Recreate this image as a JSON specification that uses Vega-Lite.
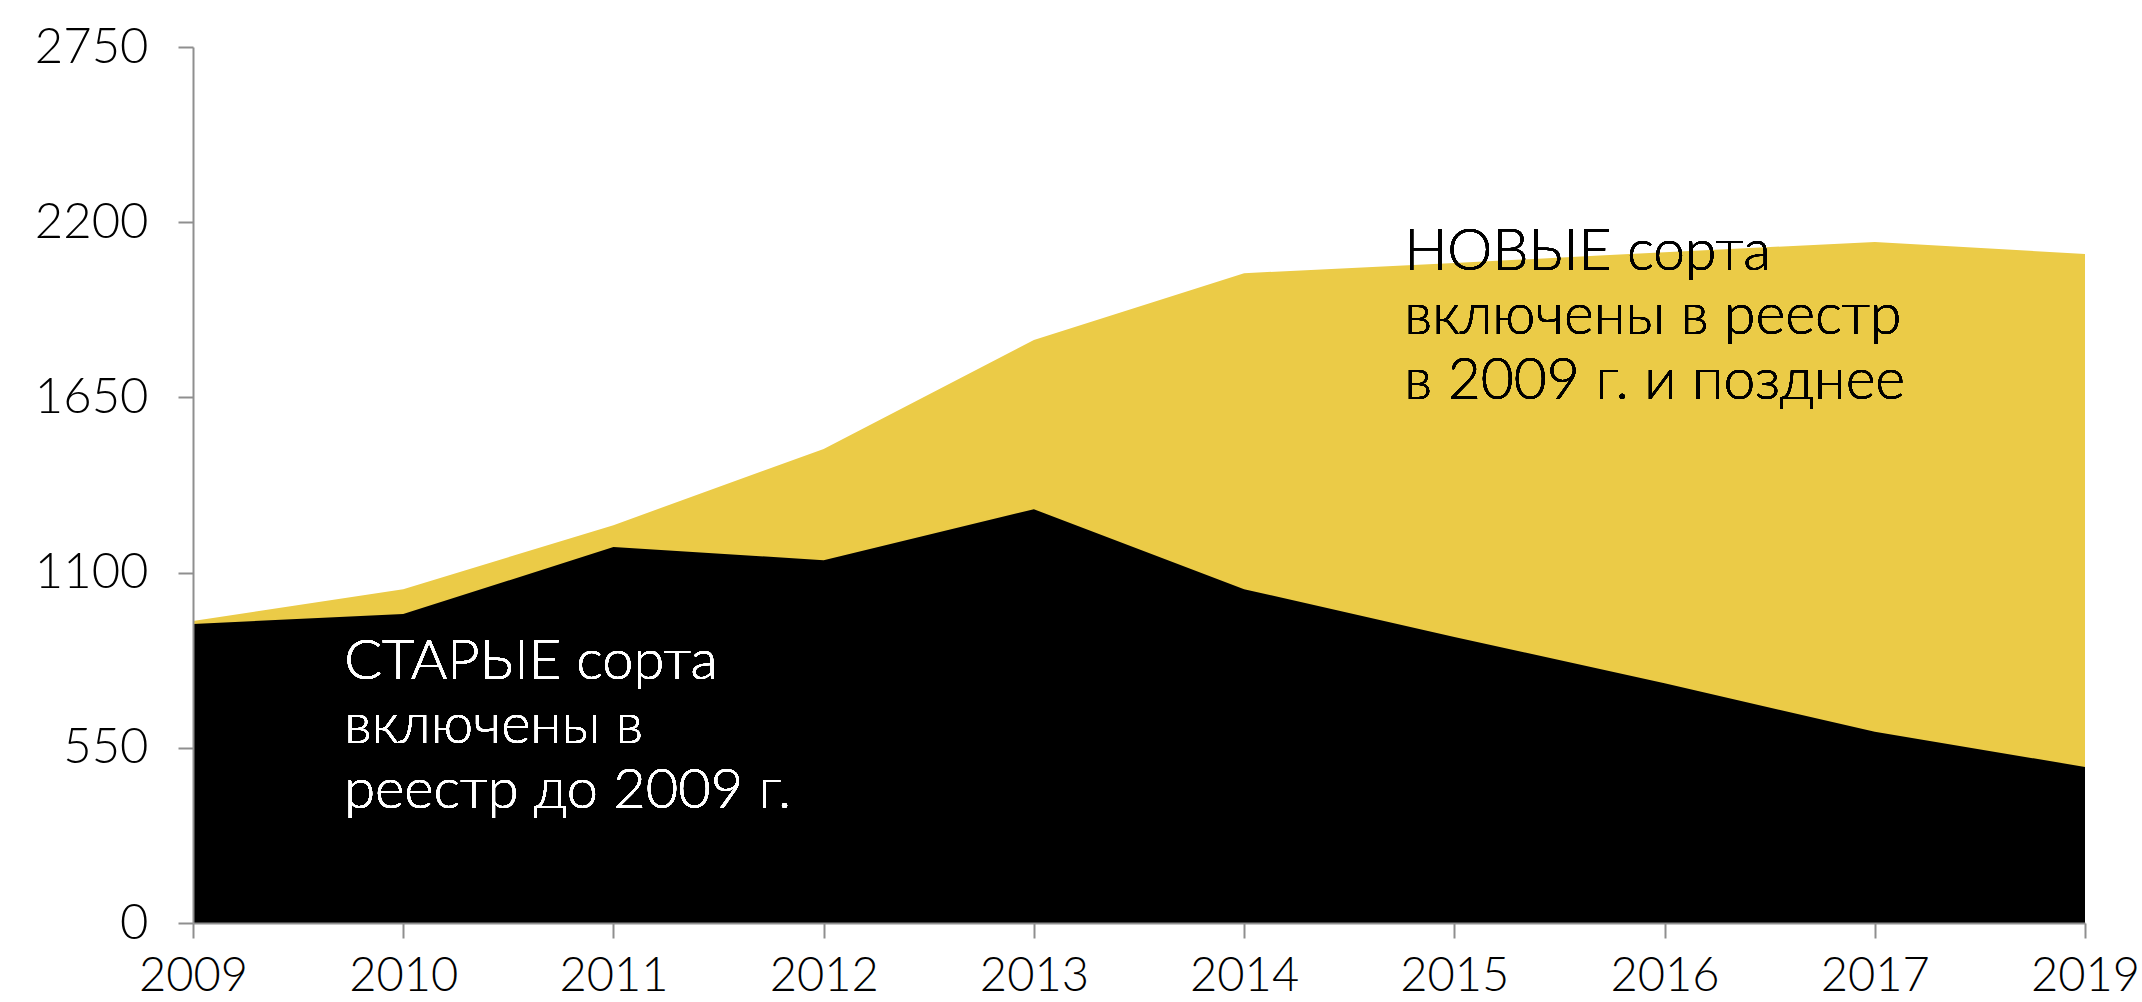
{
  "$schema": "https://vega.github.io/schema/vega-lite/v6.json",
  "autosize": {"type": "none"},
  "padding": {"left": 193, "top": 47, "right": 57, "bottom": 79},
  "width": 1892,
  "height": 876,
  "background": "white",
  "config": {"view": {"stroke": null}, "font": "Lato"},
  "data": {
    "values": [
      {"year": "2009", "total": 948, "old": 939},
      {"year": "2010", "total": 1048, "old": 970},
      {"year": "2011", "total": 1249, "old": 1180},
      {"year": "2012", "total": 1488, "old": 1139},
      {"year": "2013", "total": 1830, "old": 1299},
      {"year": "2014", "total": 2040, "old": 1048},
      {"year": "2015", "total": 2072, "old": 898},
      {"year": "2016", "total": 2106, "old": 753},
      {"year": "2017", "total": 2138, "old": 600},
      {"year": "2019", "total": 2100, "old": 490}
    ]
  },
  "encoding": {
    "x": {
      "field": "year",
      "type": "ordinal",
      "scale": {"type": "point", "padding": 0},
      "axis": {
        "title": null,
        "labelAngle": 0,
        "labelFont": "Lato",
        "labelFontWeight": 300,
        "labelFontSize": 47,
        "labelColor": "#000000",
        "labelPadding": 15,
        "labelOverlap": false,
        "labelBound": false,
        "labelFlush": false,
        "tickSize": 15,
        "tickColor": "#8f8f8f",
        "tickWidth": 2,
        "domainColor": "#8f8f8f",
        "domainWidth": 2,
        "grid": false,
        "zindex": 1
      }
    }
  },
  "layer": [
    {
      "mark": {"type": "area", "color": "#EBCB47", "interpolate": "linear"},
      "encoding": {
        "y": {
          "field": "total",
          "type": "quantitative",
          "scale": {"domain": [0, 2750], "nice": false, "zero": true},
          "axis": {
            "title": null,
            "format": "d",
            "values": [0, 550, 1100, 1650, 2200, 2750],
            "labelFont": "Lato",
            "labelFontWeight": 300,
            "labelFontSize": 49,
            "labelColor": "#000000",
            "labelPadding": 30,
            "labelOverlap": false,
            "labelBound": false,
            "labelFlush": false,
            "tickSize": 15,
            "tickColor": "#8f8f8f",
            "tickWidth": 2,
            "domainColor": "#8f8f8f",
            "domainWidth": 2,
            "grid": false,
            "zindex": 1
          }
        }
      }
    },
    {
      "mark": {"type": "area", "color": "#000000", "interpolate": "linear"},
      "encoding": {
        "y": {"field": "old", "type": "quantitative"}
      }
    },
    {
      "mark": {
        "type": "text",
        "text": "СТАРЫЕ сорта\nвключены в\nреестр до 2009 г.",
        "lineBreak": "\n",
        "lineHeight": 64.5,
        "align": "left",
        "baseline": "alphabetic",
        "font": "Lato",
        "fontWeight": 300,
        "fontSize": 56,
        "color": "#ffffff",
        "dx": -59
      },
      "encoding": {
        "x": {"datum": "2010"},
        "y": {"datum": 766}
      }
    },
    {
      "mark": {
        "type": "text",
        "text": "НОВЫЕ сорта\nвключены в реестр\nв 2009 г. и позднее",
        "lineBreak": "\n",
        "lineHeight": 64.5,
        "align": "left",
        "baseline": "alphabetic",
        "font": "Lato",
        "fontWeight": 300,
        "fontSize": 57,
        "color": "#000000",
        "dx": -50
      },
      "encoding": {
        "x": {"datum": "2015"},
        "y": {"datum": 2050}
      }
    }
  ]
}
